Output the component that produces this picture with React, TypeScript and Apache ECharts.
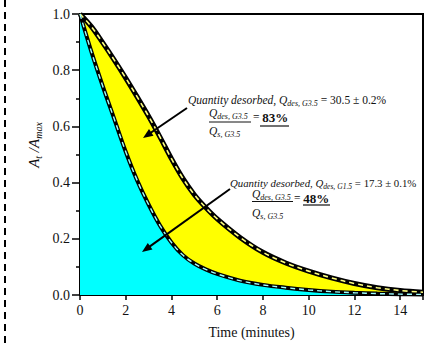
import React, { useEffect, useRef } from 'react';
import * as echarts from 'echarts';

// ---- data ----
const timeMinutes = [0, 0.5, 1, 1.5, 2, 2.5, 3, 3.5, 4, 4.5, 5, 5.5, 6, 7, 8, 9, 10, 11, 12, 13, 14, 15];
const ratioG35 = [1.0, 0.955, 0.897, 0.836, 0.772, 0.705, 0.636, 0.562, 0.485, 0.415, 0.357, 0.311, 0.271, 0.205, 0.152, 0.114, 0.085, 0.061, 0.041, 0.026, 0.016, 0.01];
const ratioG15 = [1.0, 0.865, 0.742, 0.626, 0.51, 0.408, 0.322, 0.247, 0.187, 0.142, 0.112, 0.091, 0.075, 0.051, 0.036, 0.026, 0.018, 0.012, 0.008, 0.005, 0.003, 0.002];
const xTickValues = [0, 2, 4, 6, 8, 10, 12, 14];
const yTickValues = [0.0, 0.2, 0.4, 0.6, 0.8, 1.0];
const xAxisTitle = 'Time (minutes)';
const annotationG35 = { qty: '30.5 ± 0.2%', sub: 'des, G3.5', ratio: '83%' };
const annotationG15 = { qty: '17.3 ± 0.1%', sub: 'des, G1.5', ratio: '48%' };

const SERIF = 'Liberation Serif';

function makeRich(size: number, subSize: number) {
  return {
    q: { fontFamily: SERIF, fontStyle: 'italic', fontSize: size, lineHeight: 14, fill: '#111' },
    s: { fontFamily: SERIF, fontStyle: 'italic', fontSize: subSize, lineHeight: 7, verticalAlign: 'bottom', fill: '#111' },
    n: { fontFamily: SERIF, fontSize: size, lineHeight: 14, fill: '#111' },
    b: { fontFamily: SERIF, fontWeight: 'bold', fontSize: 13, lineHeight: 14, fill: '#111' },
  };
}
const richMain = makeRich(11.5, 8);
const richTight = makeRich(10.8, 7.6);

function txt(x: number, y: number, text: string, rich: any = richMain) {
  return { type: 'text', x, y, z: 100, style: { text, rich, fontFamily: SERIF, verticalAlign: 'top', fill: '#111' } };
}
function hline(x1: number, x2: number, y: number, w = 1) {
  return { type: 'line', z: 100, shape: { x1, y1: y, x2, y2: y }, style: { stroke: '#111', lineWidth: w } };
}
function arrow(x1: number, y1: number, x2: number, y2: number) {
  const dx = x2 - x1, dy = y2 - y1;
  const L = Math.sqrt(dx * dx + dy * dy);
  const ux = dx / L, uy = dy / L;
  const hl = 10, hw = 4;
  const bx = x2 - hl * ux, by = y2 - hl * uy;
  return [
    { type: 'line', z: 100, shape: { x1, y1, x2: bx + 2 * ux, y2: by + 2 * uy }, style: { stroke: '#000', lineWidth: 2 } },
    {
      type: 'polygon', z: 100,
      shape: { points: [[x2, y2], [bx - hw * uy, by + hw * ux], [bx + hw * uy, by - hw * ux]] },
      style: { fill: '#000' },
    },
  ];
}

export default function App() {
  const ref = useRef<HTMLDivElement>(null);
  useEffect(() => {
    if (!ref.current) return;
    const chart = echarts.init(ref.current, null, { renderer: 'svg' });
    const upper = timeMinutes.map((t, i) => [t, ratioG35[i]]);
    const lower = timeMinutes.map((t, i) => [t, ratioG15[i]]);
    const lineBase = { type: 'line', smooth: 0.35, showSymbol: false };
    const option: any = {
      animation: false,
      backgroundColor: '#fff',
      textStyle: { fontFamily: SERIF },
      grid: {
        left: 80, top: 14, right: -8, bottom: 51,
        show: true, borderColor: '#000', borderWidth: 2, backgroundColor: 'transparent',
      },
      xAxis: [
        {
          type: 'value', min: xTickValues[0], max: 15, interval: 2,
          name: xAxisTitle, nameLocation: 'middle', nameGap: 30,
          nameTextStyle: { fontFamily: SERIF, fontSize: 14, color: '#111' },
          axisLine: { onZero: false, lineStyle: { color: '#000', width: 2 } },
          axisTick: { show: true, length: 5, lineStyle: { color: '#000', width: 1.5 } },
          axisLabel: {
            fontFamily: SERIF, fontSize: 14, color: '#111', margin: 8,
            formatter: (v: number) => (xTickValues.includes(v) ? String(v) : ''),
          },
          splitLine: { show: false },
        },
        {
          type: 'value', min: 0, max: 15, interval: 1, position: 'bottom',
          axisLine: { show: false },
          axisTick: { show: true, inside: true, length: 4, lineStyle: { color: '#000', width: 1.5 } },
          axisLabel: { show: false },
          splitLine: { show: false },
        },
      ],
      yAxis: {
        type: 'value', min: yTickValues[0], max: yTickValues[yTickValues.length - 1], interval: 0.2,
        axisLine: { onZero: false, lineStyle: { color: '#000', width: 2 } },
        axisTick: { show: true, length: 8, lineStyle: { color: '#000', width: 1.5 } },
        minorTick: { show: true, splitNumber: 2, length: 4, lineStyle: { color: '#000', width: 1.5 } },
        axisLabel: {
          fontFamily: SERIF, fontSize: 14, color: '#111', margin: 10,
          formatter: (v: number) => v.toFixed(1),
        },
        splitLine: { show: false },
        minorSplitLine: { show: false },
      },
      series: [
        {
          ...lineBase, data: upper, z: 2,
          lineStyle: { color: '#000', width: 5 },
          areaStyle: { color: '#ffff00', opacity: 1 },
        },
        {
          ...lineBase, data: lower, z: 3,
          lineStyle: { color: '#000', width: 4 },
          areaStyle: { color: '#00ffff', opacity: 1 },
        },
        {
          ...lineBase, data: upper, z: 4,
          lineStyle: { color: '#ffff80', width: 1.6, type: [5, 4] },
        },
        {
          ...lineBase, data: lower, z: 4,
          lineStyle: { color: '#a0ffff', width: 1.4, type: [5, 4] },
        },
      ],
      graphic: [
        {
          type: 'line', shape: { x1: 5, y1: 0, x2: 5, y2: 346 },
          style: { stroke: '#000', lineWidth: 2, lineDash: [7, 5] },
        },
        {
          type: 'text', x: 34, y: 145, rotation: Math.PI / 2, z: 100,
          style: {
            text: '{i|A}{s|t}{i| /A}{s|max}',
            align: 'center', verticalAlign: 'middle', fontFamily: SERIF,
            rich: {
              i: { fontFamily: SERIF, fontStyle: 'italic', fontSize: 15, lineHeight: 18, fill: '#111' },
              s: { fontFamily: SERIF, fontStyle: 'italic', fontSize: 10, lineHeight: 10, verticalAlign: 'bottom', fill: '#111' },
            },
          },
        },
        // annotation G3.5
        txt(188, 93, `{q|Quantity desorbed, Q}{s|${annotationG35.sub}}{n| = ${annotationG35.qty}}`),
        txt(209, 106, '{q|Q}{s|des, G3.5}'),
        hline(209, 251, 122),
        txt(253, 110, `{n|= }{b|${annotationG35.ratio}}`),
        hline(260, 289, 126, 1.2),
        txt(209, 124, '{q|Q}{s|s, G3.5}'),
        ...arrow(187, 108, 143, 138),
        // annotation G1.5
        txt(230, 176, `{q|Quantity desorbed, Q}{s|${annotationG15.sub}}{n| = ${annotationG15.qty}}`, richTight),
        txt(252, 187, '{q|Q}{s|des, G3.5}'),
        hline(252, 293, 201.5),
        txt(294, 191, `{n|= }{b|${annotationG15.ratio}}`),
        hline(303, 330, 205, 1.2),
        txt(252, 206, '{q|Q}{s|s, G3.5}'),
        ...arrow(230, 189, 142, 252),
      ],
    };
    chart.setOption(option);
    return () => chart.dispose();
  }, []);
  return (
    <div
      ref={ref}
      style={{ position: 'absolute', left: 0, top: 0, width: 426, height: 346 }}
    />
  );
}
